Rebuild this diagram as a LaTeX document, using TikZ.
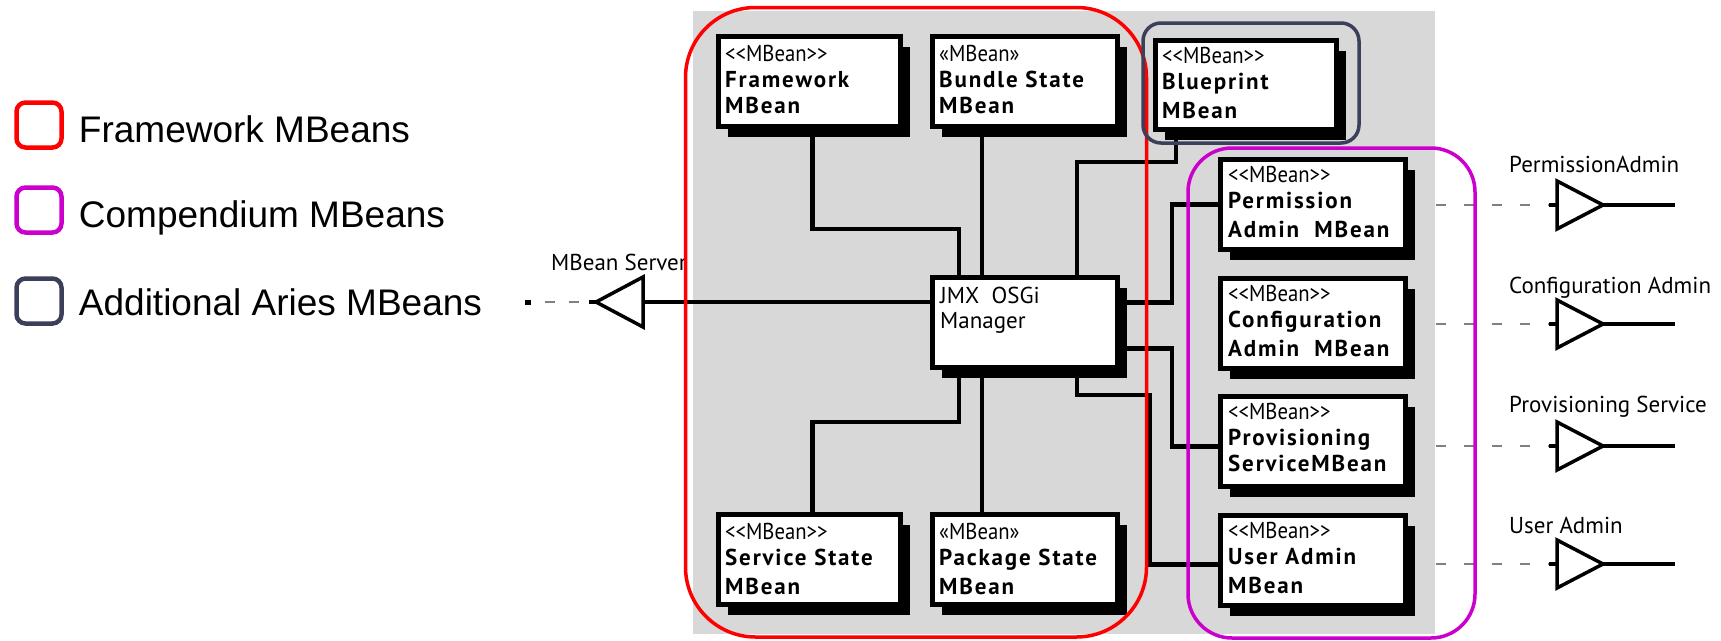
\documentclass[tikz,border=0pt]{standalone}
\usepackage{fontspec}
\usetikzlibrary{positioning,shadows}
\newfontfamily\legfont{Liberation Sans}
\newfontfamily\boxfont[LetterSpace=8]{PT Sans}
\newfontfamily\labfont{PT Sans}
\newfontfamily\stfont[FakeStretch=0.9]{PT Sans}
\definecolor{fwred}{RGB}{255,0,0}
\definecolor{cpmag}{RGB}{204,0,204}
\definecolor{arnavy}{RGB}{59,63,90}
\definecolor{bggray}{RGB}{216,216,216}
\definecolor{dashgray}{RGB}{128,128,128}
\newcommand{\stereo}{\stfont\mdseries <\kern0pt<MBean>\kern0pt>}
\tikzset{
  mbean/.style={draw, line width=5pt, fill=white, anchor=north west, inner sep=0pt,
    minimum width=185pt, minimum height=90pt,
    general shadow={fill=black, shadow xshift=9pt, shadow yshift=-10pt}},
  mbtext/.style={anchor=base west, align=left, inner sep=0pt,
    font=\boxfont\bfseries\fontsize{23}{26}\selectfont},
  wire/.style={line width=4.5pt},
  iface/.style={line width=3.5pt, line join=miter},
  dashline/.style={draw=dashgray, line width=2pt, dash pattern=on 10pt off 18pt, dash phase=10pt},
  group/.style={line width=3.5pt},
  legbox/.style={draw, line width=4.5pt, rounded corners=9pt, minimum size=45pt, inner sep=0pt},
  legtext/.style={anchor=base west, inner sep=0pt, font=\legfont\fontsize{37}{40}\selectfont},
  iftext/.style={anchor=base west, inner sep=0pt, font=\labfont\fontsize{23}{26}\selectfont},
}
\begin{document}
\begin{tikzpicture}[x=1pt, y=-1pt]
    \useasboundingbox (0,0) rectangle (1721,640);

    % =========================================================
    % LEGENDA
    % =========================================================
    \node[legbox, draw=fwred] (leg-fw) at (39,125) {};
    \node[legtext] (leg-fw-txt) at ([shift={(15,17)}]leg-fw.east) {Framework MBeans};
    \node[legbox, draw=cpmag] (leg-cp) at (39,210) {};
    \node[legtext] (leg-cp-txt) at ([shift={(15,17)}]leg-cp.east) {Compendium MBeans};
    \node[legbox, draw=arnavy] (leg-ar) at (39,301) {};
    \node[legtext] (leg-ar-txt) at ([shift={(15,14)}]leg-ar.east) {Additional Aries MBeans};

    % =========================================================
    % SFONDO
    % =========================================================
    \fill[bggray] (693,11) rectangle (1435,634);

    % =========================================================
    % MBEAN (testo: base dell'ultima riga)
    % =========================================================
    % Framework MBeans
    \node[mbean, minimum width=182pt] (fw) at (716,34) {};
    \node[mbtext] (fw-txt) at ([shift={(9,79)}]fw.north west)
        {\stereo\\Framework\\MBean};
    \node[mbean] (bs) at (930,34) {};
    \node[mbtext] (bs-txt) at ([shift={(9,79)}]bs.north west)
        {{\stfont\mdseries «MBean»}\\Bundle State\\MBean};
    \node[mbean] (jmx) at (930,275) {};
    \node[mbtext, font=\labfont\fontsize{23}{25}\selectfont] (jmx-txt) at ([shift={(10,53)}]jmx.north west)
        {JMX\ \ OSGi\\Manager};
    \node[mbean, minimum width=182pt] (ss) at (716,512) {};
    \node[mbtext] (ss-txt) at ([shift={(9,82)}]ss.north west)
        {\stereo\\Service State\\[3pt]MBean};
    \node[mbean] (ps) at (930,512) {};
    \node[mbtext] (ps-txt) at ([shift={(9,82)}]ps.north west)
        {{\stfont\mdseries «MBean»}\\Package State\\[3pt]MBean};

    % Aries MBean
    \node[mbean, minimum width=181pt, minimum height=89pt] (bp) at (1153,38) {};
    \node[mbtext] (bp-txt) at ([shift={(9,80)}]bp.north west)
        {\stereo\\Blueprint\\[3pt]MBean};

    % Compendium MBeans
    \node[mbean] (pa) at (1218,157) {};
    \node[mbtext] (pa-txt) at ([shift={(10,80)}]pa.north west)
        {\stereo\\Permission\\[3pt]Admin\ \ MBean};
    \node[mbean] (ca) at (1218,276) {};
    \node[mbtext] (ca-txt) at ([shift={(10,80)}]ca.north west)
        {\stereo\\Configuration\\[3pt]Admin\ \ MBean};
    \node[mbean] (prv) at (1218,394) {};
    \node[mbtext] (prv-txt) at ([shift={(10,77)}]prv.north west)
        {\stereo\\Provisioning\\ServiceMBean};
    \node[mbean] (ua) at (1218,513) {};
    \node[mbtext] (ua-txt) at ([shift={(10,80)}]ua.north west)
        {\stereo\\User Admin\\[3pt]MBean};

    % =========================================================
    % INTERFACCE
    % =========================================================
    % MBean Server
    \coordinate (srv-tip) at (596,302);
    \coordinate (srv) at (643,302);
    \draw[iface] (srv-tip) -- ++(47,-25) -- ++(0,50) -- cycle;
    \node[fill, inner sep=0pt, minimum width=6pt, minimum height=5pt] (srv-end) at (528,302) {};
    \node[iftext] (srv-lbl) at (551,270) {MBean Server};
    \draw[dashline, dash pattern=on 10pt off 14pt, dash phase=10pt] (srv-end) -- ([xshift=-7pt]srv-tip);
    \draw[wire] ([xshift=-7pt]srv-tip) -- (srv-tip);
    \draw[wire] (srv) -- (srv -| jmx.west);

    % Servizi compendium
    \coordinate (pa-if) at (1557,205);
    \coordinate (ca-if) at (1557,324);
    \coordinate (prv-if) at (1557,446);
    \coordinate (ua-if) at (1557,564);
    \coordinate (pa-end) at (1675,205);
    \coordinate (ca-end) at (1675,324);
    \coordinate (prv-end) at (1675,446);
    \coordinate (ua-end) at (1675,564);
    \node[iftext] (pa-lbl) at (1509,172) {PermissionAdmin};
    \node[iftext] (ca-lbl) at (1509,293) {Configuration Admin};
    \node[iftext] (prv-lbl) at (1509,412) {Provisioning Service};
    \node[iftext] (ua-lbl) at (1509,533) {User Admin};
    \foreach \b in {pa, ca, prv, ua} {
        \draw[iface] (\b-if) -- ++(0,-24) -- ++(46,24) coordinate (\b-tip) -- ++(-46,24) -- cycle;
        \draw[dashline, shorten <=10pt] (\b.east |- \b-if) -- ([xshift=-8pt]\b-if);
        \draw[wire] ([xshift=-8pt]\b-if) -- (\b-if);
        \draw[line width=3.5pt] (\b-tip) -- (\b-end);
    }

    % =========================================================
    % CONNESSIONI
    % =========================================================
    \draw[wire] ([xshift=3pt]fw.south) -- ++(0,100) -| ([xshift=-66pt]jmx.north);
    \draw[wire] ([xshift=-43pt]bs.south) -- ([xshift=-43pt]jmx.north);
    \draw[wire] ([xshift=-70pt]bp.south) -- ++(0,30) -| ([xshift=52pt]jmx.north);
    \draw[wire] ([yshift=20pt]jmx.east) -- ++(52,0) |- (pa.west);
    \draw[wire] ([yshift=-26pt]jmx.east) -- ++(52,0) |- ([yshift=-5pt]prv.west);
    \draw[wire] ([xshift=52pt]jmx.south) -- ++(0,25) -- ++(73,0) |- ([yshift=-4pt]ua.west);
    \draw[wire] ([xshift=-66pt]jmx.south) -- ++(0,52) -| ([xshift=3pt]ss.north);
    \draw[wire] ([xshift=-43pt]jmx.south) -- ([xshift=-43pt]ps.north);

    % =========================================================
    % GRUPPI
    % =========================================================
    \draw[group, draw=fwred, rounded corners=70pt] (685.5,7.5) rectangle (1146.5,637);
    \draw[group, draw=cpmag, rounded corners=44pt] (1188,148) rectangle (1475,638);
    \draw[group, draw=arnavy, rounded corners=18pt] (1143,23) rectangle (1359,143);
\end{tikzpicture}
\end{document}
